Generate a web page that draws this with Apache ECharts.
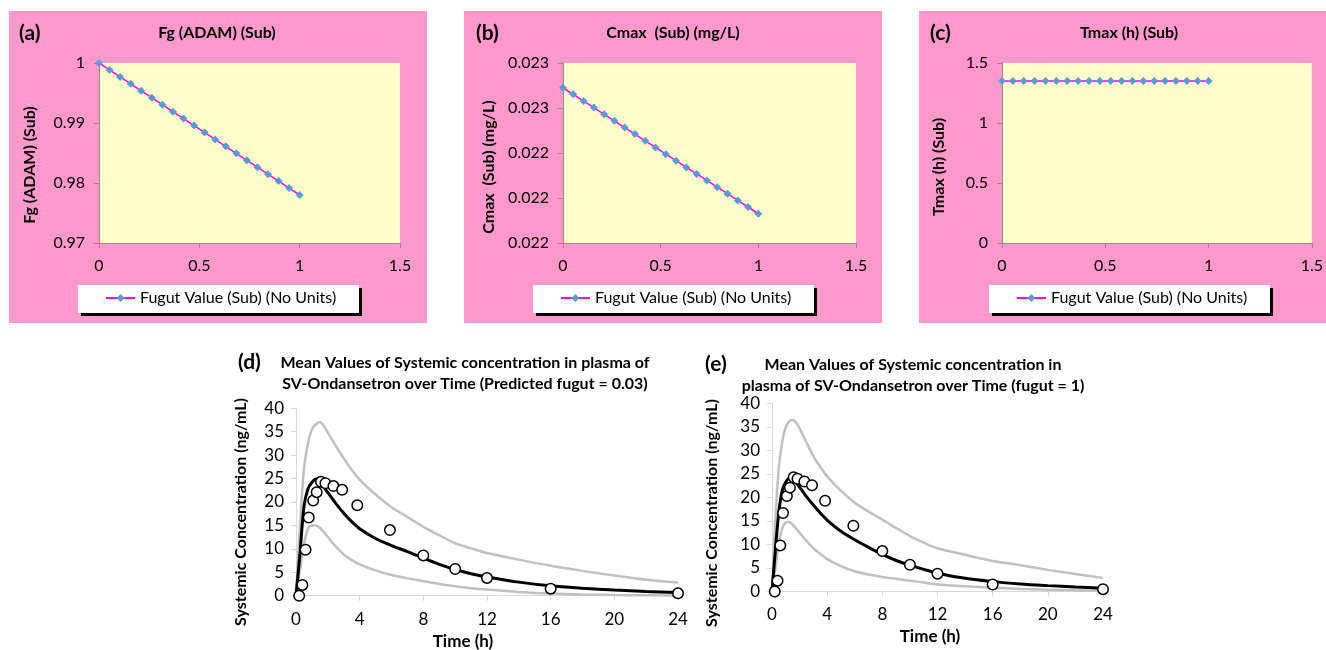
<!DOCTYPE html>
<html><head><meta charset="utf-8">
<script src="https://cdn.jsdelivr.net/npm/echarts@6/dist/echarts.min.js"></script>
<style>html,body{margin:0;padding:0;background:#fff}#c{width:1326px;height:650px}</style>
</head><body><div id="c"></div><script>
// ---- Top panels data ----
const fugut = [0, 0.0526, 0.1053, 0.1579, 0.2105, 0.2632, 0.3158, 0.3684, 0.4211, 0.4737, 0.5263, 0.5789, 0.6316, 0.6842, 0.7368, 0.7895, 0.8421, 0.8947, 0.9474, 1];
const fgAdam = [1, 0.99884, 0.99768, 0.99653, 0.99537, 0.99421, 0.99305, 0.99189, 0.99074, 0.98958, 0.98842, 0.98726, 0.98611, 0.98495, 0.98379, 0.98263, 0.98147, 0.98032, 0.97916, 0.978];
const cmaxSub = [0.02269, 0.022661, 0.022631, 0.022602, 0.022572, 0.022543, 0.022513, 0.022484, 0.022454, 0.022425, 0.022395, 0.022366, 0.022336, 0.022307, 0.022278, 0.022248, 0.022219, 0.022189, 0.02216, 0.02213];
const tmaxSub = [1.35, 1.35, 1.35, 1.35, 1.35, 1.35, 1.35, 1.35, 1.35, 1.35, 1.35, 1.35, 1.35, 1.35, 1.35, 1.35, 1.35, 1.35, 1.35, 1.35];
const legendName = 'Fugut Value (Sub) (No Units)';

// ---- Bottom panels data ----
const simTime = [0, 0.25, 0.5, 0.75, 1, 1.25, 1.5, 1.75, 2, 2.5, 3, 3.5, 4, 5, 6, 7, 8, 9, 10, 11, 12, 14, 16, 18, 20, 22, 24];
const dMean  = [0, 9, 19, 22.8, 24.2, 24.9, 24.3, 23.2, 22.0, 19.7, 17.6, 15.8, 14.3, 12.2, 10.7, 9.4, 8.0, 6.7, 5.6, 4.7, 4.0, 2.9, 2.1, 1.6, 1.2, 0.9, 0.7];
const dUpper = [0, 15, 27, 32.5, 35.5, 36.6, 37.1, 36.2, 34.8, 32, 29.3, 26.9, 24.8, 21.6, 18.9, 16.8, 14.7, 12.9, 11.2, 10.1, 9.1, 7.7, 6.4, 5.3, 4.3, 3.4, 2.8];
const dLower = [0, 5.5, 11, 14.3, 15, 15, 14.5, 13.6, 12.5, 10.5, 8.8, 7.6, 6.7, 5.4, 4.4, 3.7, 3.1, 2.5, 2.0, 1.6, 1.3, 0.8, 0.45, 0.25, 0.15, 0.1, 0.05];
const eMean  = [0, 9, 17, 21.6, 23.3, 24.1, 23.9, 23.2, 22.2, 20.2, 18.4, 16.7, 15.2, 12.8, 11.0, 9.4, 7.9, 6.6, 5.6, 4.7, 3.9, 2.8, 2.1, 1.6, 1.25, 0.95, 0.7];
const eUpper = [0, 15.5, 26.5, 32, 35, 36.2, 36.5, 35.9, 34.7, 31.7, 28.8, 26.5, 24.5, 21.4, 18.9, 17, 15.3, 13.5, 11.8, 10.4, 9.2, 7.8, 6.5, 5.6, 4.6, 3.7, 2.9];
const eLower = [0, 5, 10.5, 13.5, 14.7, 14.8, 14.2, 13.4, 12.5, 10.8, 9.2, 8.0, 6.9, 5.4, 4.3, 3.6, 3.1, 2.7, 2.3, 1.9, 1.5, 1.1, 0.8, 0.55, 0.38, 0.25, 0.15];
const obsTime = [0.2, 0.4, 0.6, 0.8, 1.08, 1.3, 1.57, 1.85, 2.35, 2.9, 3.85, 5.9, 8, 10, 12, 16, 24];
const obsConc = [0, 2.3, 9.8, 16.7, 20.3, 22.1, 24.3, 24.0, 23.4, 22.6, 19.3, 14.0, 8.6, 5.7, 3.8, 1.5, 0.5];

const FONT = 'Lato';
const pink = '#FF99CC', yellow = '#FFFFCC';
const pair = (xs, ys) => xs.map((x, i) => [x, ys[i]]);

const topGrids = [
  {left: 99, top: 63, width: 301, height: 180},
  {left: 563, top: 63, width: 293, height: 180},
  {left: 1002, top: 63, width: 310, height: 180}
];
const botGrids = [
  {left: 296, top: 408.3, width: 382, height: 187.4},
  {left: 772, top: 403.5, width: 331, height: 188}
];
const grid = topGrids.map(g => Object.assign({show: true, backgroundColor: yellow, borderWidth: 0}, g))
  .concat(botGrids.map(g => Object.assign({show: false}, g)));

const topXAxis = i => ({
  type: 'value', gridIndex: i, min: 0, max: 1.5, interval: 0.5,
  axisLine: {show: true, lineStyle: {color: '#8c8c8c', width: 1}},
  axisTick: {show: true, length: 5, lineStyle: {color: '#8c8c8c'}},
  splitLine: {show: false},
  axisLabel: {fontFamily: FONT, fontSize: 16, color: '#000', margin: 15}
});
const topYAxis = (i, min, max, interval, fmt) => ({
  type: 'value', gridIndex: i, min, max, interval,
  axisLine: {show: true, lineStyle: {color: '#8c8c8c', width: 1}},
  axisTick: {show: true, length: 5, lineStyle: {color: '#8c8c8c'}},
  splitLine: {show: false},
  axisLabel: {fontFamily: FONT, fontSize: 16, color: '#000', margin: 14, formatter: fmt}
});
const botXAxis = i => ({
  type: 'value', gridIndex: i, min: 0, max: 24, interval: 4,
  axisLine: {show: true, lineStyle: {color: '#d9d9d9', width: 1}},
  axisTick: {show: true, length: 5, lineStyle: {color: '#d9d9d9'}},
  splitLine: {show: false},
  axisLabel: {fontFamily: FONT, fontSize: 17, color: '#000', margin: 15}
});
const botYAxis = i => ({
  type: 'value', gridIndex: i, min: 0, max: 40, interval: 5,
  axisLine: {show: true, lineStyle: {color: '#d9d9d9', width: 1}},
  axisTick: {show: true, length: 5, lineStyle: {color: '#d9d9d9'}},
  splitLine: {show: false},
  axisLabel: {fontFamily: FONT, fontSize: 17, color: '#000', margin: 12}
});

const xAxis = [topXAxis(0), topXAxis(1), topXAxis(2), botXAxis(3), botXAxis(4)];
const yAxis = [
  topYAxis(0, 0.97, 1, 0.01, v => (v === 1 ? '1' : v.toFixed(2))),
  topYAxis(1, 0.022, 0.0228, 0.0002, v => v.toFixed(3)),
  topYAxis(2, 0, 1.5, 0.5, null),
  botYAxis(3), botYAxis(4)
];

const fugutSeries = (i, ys) => ({
  name: legendName, type: 'line', xAxisIndex: i, yAxisIndex: i,
  data: pair(fugut, ys), symbol: 'diamond', symbolSize: 8, showSymbol: true,
  lineStyle: {color: '#FF00FF', width: 1.5},
  itemStyle: {color: '#5B9BD5', borderWidth: 0},
  emphasis: {disabled: true}, animation: false
});
const simSeries = (i, ys, color, width) => ({
  type: 'line', xAxisIndex: i, yAxisIndex: i, data: pair(simTime, ys),
  showSymbol: false, symbol: 'none', smooth: 0.3,
  lineStyle: {color, width}, emphasis: {disabled: true}, animation: false
});
const obsSeries = i => ({
  type: 'scatter', xAxisIndex: i, yAxisIndex: i, data: pair(obsTime, obsConc),
  symbol: 'circle', symbolSize: 10.5, z: 5,
  itemStyle: {color: '#ffffff', borderColor: '#000', borderWidth: 1.5, opacity: 1},
  emphasis: {disabled: true}, animation: false
});

const series = [
  fugutSeries(0, fgAdam), fugutSeries(1, cmaxSub), fugutSeries(2, tmaxSub),
  simSeries(3, dUpper, '#c0c0c0', 2.5), simSeries(3, dLower, '#c0c0c0', 2.5), simSeries(3, dMean, '#000', 3), obsSeries(3),
  simSeries(4, eUpper, '#c0c0c0', 2.5), simSeries(4, eLower, '#c0c0c0', 2.5), simSeries(4, eMean, '#000', 3), obsSeries(4)
];

const legendBoxes = [78, 533, 989];
const legend = legendBoxes.map(x => ({
  data: [legendName], left: x + 27, top: 290, itemWidth: 29, itemHeight: 10, itemGap: 0, z: 60,
  selectedMode: false, padding: 0,
  textStyle: {fontFamily: FONT, fontSize: 16, color: '#000', padding: [0, 0, 0, 0]}
}));

const txt = (x, y, text, opt) => Object.assign({
  type: 'text', x, y, z: 70,
  style: Object.assign({text, fill: '#000', font: 'bold 14px ' + FONT, textAlign: 'center', textVerticalAlign: 'middle'}, opt && opt.style || {})
}, opt && opt.rotation !== undefined ? {rotation: opt.rotation} : {});

const graphic = [];
[[9, 418], [464, 418], [919, 407]].forEach(([x, w]) => {
  graphic.push({type: 'rect', z: -100, shape: {x, y: 11, width: w, height: 312}, style: {fill: pink}});
});
legendBoxes.forEach(x => {
  graphic.push({type: 'rect', z: 40, shape: {x: x + 3, y: 288, width: 281, height: 28}, style: {fill: '#000'}});
  graphic.push({type: 'rect', z: 41, shape: {x, y: 285, width: 281, height: 28}, style: {fill: '#fff'}});
});
const LBL = 'bold 21px ' + FONT, TT = 'bold 16px ' + FONT, BT = 'bold 16px ' + FONT;
// Panel labels
graphic.push(txt(19, 33, '(a)', {style: {font: LBL, textAlign: 'left'}}));
graphic.push(txt(476, 33, '(b)', {style: {font: LBL, textAlign: 'left'}}));
graphic.push(txt(930, 33, '(c)', {style: {font: LBL, textAlign: 'left'}}));
graphic.push(txt(238, 362, '(d)', {style: {font: LBL, textAlign: 'left'}}));
graphic.push(txt(705, 364, '(e)', {style: {font: LBL, textAlign: 'left'}}));
// Top titles
graphic.push(txt(217, 33, 'Fg (ADAM) (Sub)', {style: {font: TT}}));
graphic.push(txt(673, 33, 'Cmax  (Sub) (mg/L)', {style: {font: TT}}));
graphic.push(txt(1129, 33, 'Tmax (h) (Sub)', {style: {font: TT}}));
// Top y-axis names
graphic.push(txt(30, 165, 'Fg (ADAM) (Sub)', {rotation: Math.PI / 2, style: {font: TT}}));
graphic.push(txt(489, 167, 'Cmax  (Sub) (mg/L)', {rotation: Math.PI / 2, style: {font: TT}}));
graphic.push(txt(939, 167, 'Tmax (h) (Sub)', {rotation: Math.PI / 2, style: {font: TT}}));
// Bottom titles
graphic.push(txt(465, 363, 'Mean Values of Systemic concentration in plasma of', {style: {font: BT}}));
graphic.push(txt(465, 384, 'SV-Ondansetron over Time (Predicted fugut = 0.03)', {style: {font: BT}}));
graphic.push(txt(913, 365, 'Mean Values of Systemic concentration in', {style: {font: BT}}));
graphic.push(txt(913, 386, 'plasma of SV-Ondansetron over Time (fugut = 1)', {style: {font: BT}}));
// Bottom axis names
graphic.push(txt(241, 512, 'Systemic Concentration (ng/mL)', {rotation: Math.PI / 2, style: {font: BT}}));
graphic.push(txt(712, 513, 'Systemic Concentration (ng/mL)', {rotation: Math.PI / 2, style: {font: BT}}));
graphic.push(txt(463, 642, 'Time (h)', {style: {font: 'bold 17px ' + FONT}}));
graphic.push(txt(930, 637, 'Time (h)', {style: {font: 'bold 17px ' + FONT}}));

const chart = echarts.init(document.getElementById('c'), null, {renderer: 'canvas'});
chart.setOption({
  animation: false,
  backgroundColor: '#fff',
  grid, xAxis, yAxis, series, legend,
  graphic: {elements: graphic}
});
</script></body></html>
